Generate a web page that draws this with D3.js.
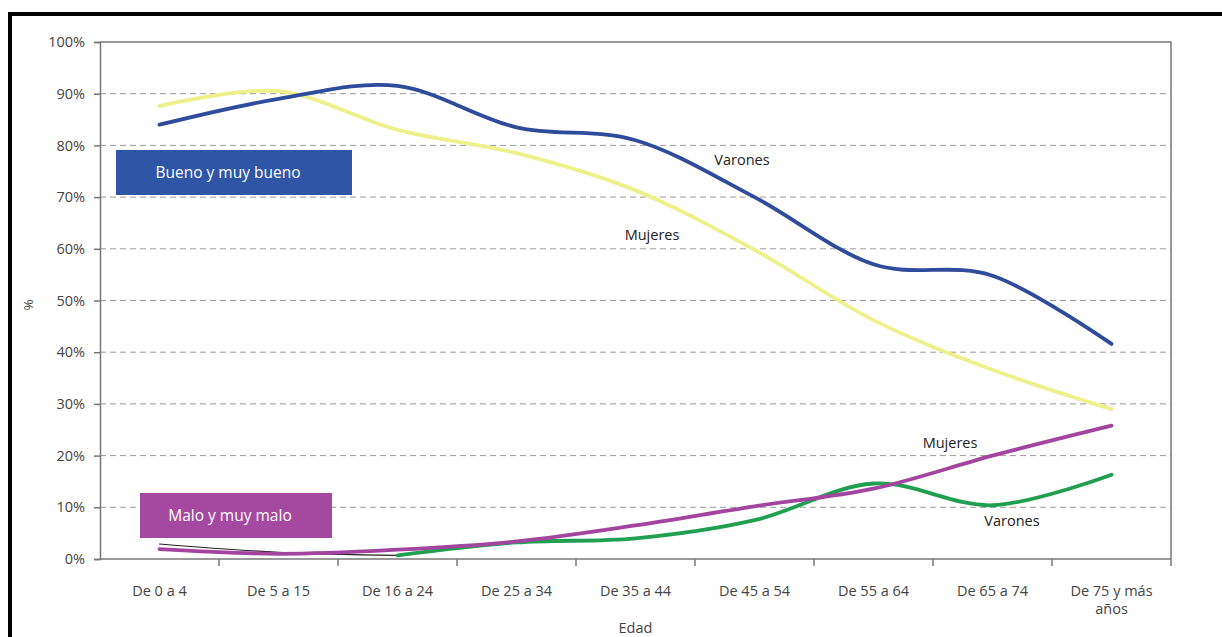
<!DOCTYPE html>
<html>
<head>
<meta charset="utf-8">
<script src="https://cdn.jsdelivr.net/npm/d3@7"></script>
<style>
  html, body { margin: 0; padding: 0; background: #fff; }
  svg { display: block; font-family: "Open Sans", "Liberation Sans", sans-serif; }
</style>
</head>
<body>
<svg id="chart" width="1222" height="637"></svg>
<script>
// Age groups (x categories)
const ageGroups = ["De 0 a 4", "De 5 a 15", "De 16 a 24", "De 25 a 34", "De 35 a 44",
                   "De 45 a 54", "De 55 a 64", "De 65 a 74", "De 75 y más años"];

// Self-rated health, % of each age group
const buenoVarones = [84, 89, 91.5, 83.5, 81, 70, 57, 54.8, 41.6];
const buenoMujeres = [87.6, 90.5, 83, 78.5, 71.3, 59.8, 46.2, 36.6, 29];
const maloMujeres  = [1.9, 1.0, 1.8, 3.4, 6.5, 10.2, 13.6, 20, 25.8];
const maloVarones  = [2.9, 1.3, 0.7, 3.2, 4, 7.5, 14.6, 10.4, 16.3];

const yTicks = [0, 10, 20, 30, 40, 50, 60, 70, 80, 90, 100];

const svg = d3.select("#chart");

// Outer frame
svg.append("rect")
  .attr("x", 10).attr("y", 14)
  .attr("width", 1300).attr("height", 700)
  .attr("fill", "none").attr("stroke", "#000").attr("stroke-width", 4);

const plotLeft = 100, plotRight = 1171, plotTop = 42, plotBottom = 559;

const x = d3.scaleBand().domain(ageGroups).range([plotLeft, plotRight]).padding(0);
const y = d3.scaleLinear().domain([0, 100]).range([plotBottom, plotTop]);
const cx = d => x(d) + x.bandwidth() / 2;

// Dashed gridlines
svg.append("g")
  .selectAll("line")
  .data(yTicks.filter(t => t > 0 && t < 100))
  .join("line")
  .attr("x1", plotLeft).attr("x2", plotRight)
  .attr("y1", d => y(d)).attr("y2", d => y(d))
  .attr("stroke", "#9a9a9a").attr("stroke-width", 1)
  .attr("stroke-dasharray", "6,4");

// Plot frame (top and right)
svg.append("path")
  .attr("d", `M${plotLeft},${plotTop}H${plotRight}V${plotBottom}`)
  .attr("fill", "none").attr("stroke", "#777").attr("stroke-width", 1.5);

// Y axis
const yAxis = svg.append("g")
  .attr("transform", `translate(${plotLeft},0)`)
  .call(d3.axisLeft(y).tickValues(yTicks).tickFormat(d => d + "%").tickSize(6).tickPadding(9));
yAxis.select(".domain").attr("stroke", "#777").attr("stroke-width", 1.5);
yAxis.selectAll(".tick line").attr("stroke", "#777").attr("stroke-width", 1.5);
yAxis.selectAll("text").attr("font-size", 14.5).attr("fill", "#444")
  .attr("font-family", "'Open Sans', sans-serif");

// X axis (ticks at category boundaries)
const boundaries = ageGroups.map(d => x(d)).concat([plotRight]);
svg.append("line")
  .attr("x1", plotLeft).attr("x2", plotRight).attr("y1", plotBottom).attr("y2", plotBottom)
  .attr("stroke", "#777").attr("stroke-width", 1.5);
svg.append("g").selectAll("line")
  .data(boundaries.slice(1))
  .join("line")
  .attr("x1", d => d).attr("x2", d => d)
  .attr("y1", plotBottom).attr("y2", plotBottom + 7)
  .attr("stroke", "#777").attr("stroke-width", 1.5);

const xLabels = svg.append("g").attr("font-size", 14.5).attr("fill", "#444").attr("text-anchor", "middle");
ageGroups.forEach(g => {
  const t = xLabels.append("text").attr("x", cx(g)).attr("y", 596);
  if (g === "De 75 y más años") {
    t.append("tspan").attr("x", cx(g)).text("De 75 y más");
    t.append("tspan").attr("x", cx(g)).attr("dy", 18).text("años");
  } else {
    t.text(g);
  }
});

// Axis titles
svg.append("text")
  .attr("x", (plotLeft + plotRight) / 2).attr("y", 633)
  .attr("text-anchor", "middle").attr("font-size", 14.5).attr("fill", "#444")
  .text("Edad");
svg.append("text")
  .attr("transform", "translate(33,305) rotate(-90)")
  .attr("text-anchor", "middle").attr("font-size", 13.5).attr("fill", "#444")
  .text("%");

// Series lines
function drawSeries(values, color, width, from = 0, to = values.length) {
  const pts = values.map((v, i) => ({ v, i })).slice(from, to);
  const l = d3.line()
    .x(d => cx(ageGroups[d.i]))
    .y(d => y(d.v))
    .curve(d3.curveCardinal.tension(0));
  svg.append("path")
    .attr("d", l(pts))
    .attr("fill", "none")
    .attr("stroke", color)
    .attr("stroke-width", width)
    .attr("stroke-linecap", "round")
    .attr("stroke-linejoin", "round");
}

drawSeries(buenoMujeres, "#eef08a", 3.8);
drawSeries(buenoVarones, "#2f4b9b", 3.8);
drawSeries(maloVarones, "#222", 1.2, 0, 3);
drawSeries(maloVarones, "#1f9f4f", 3.8, 2);
drawSeries(maloMujeres, "#a3459f", 3.8);

// Group boxes
function labelBox(x0, y0, w, h, fill, text) {
  svg.append("rect").attr("x", x0).attr("y", y0).attr("width", w).attr("height", h).attr("fill", fill);
  svg.append("text")
    .attr("x", x0 + w / 2 - 6).attr("y", y0 + h / 2 + 5)
    .attr("text-anchor", "middle").attr("font-size", 15.5).attr("fill", "#fff")
    .text(text);
}
labelBox(116, 150, 236, 45, "#2e55a6", "Bueno y muy bueno");
labelBox(140, 493, 192, 45, "#a5489f", "Malo y muy malo");

// Series labels
const seriesLabels = [
  { t: "Varones", x: 742, y: 165 },
  { t: "Mujeres", x: 652, y: 240 },
  { t: "Mujeres", x: 950, y: 448 },
  { t: "Varones", x: 1012, y: 526 }
];
svg.append("g").selectAll("text")
  .data(seriesLabels)
  .join("text")
  .attr("x", d => d.x).attr("y", d => d.y)
  .attr("text-anchor", "middle").attr("font-size", 14.5).attr("fill", "#222")
  .text(d => d.t);
</script>
</body>
</html>
